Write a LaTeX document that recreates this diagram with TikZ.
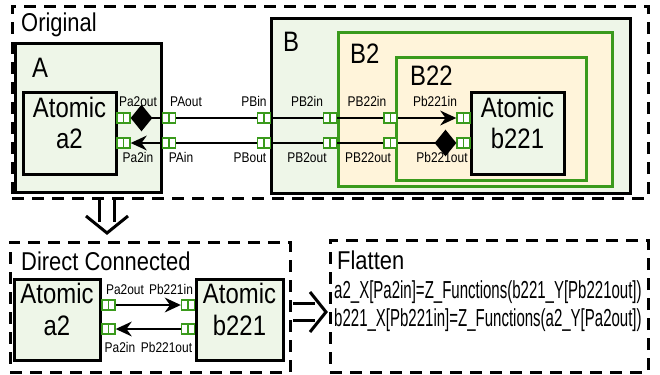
\documentclass[tikz,border=0pt]{standalone}
\usepackage{fontspec}
\setmainfont{Liberation Sans}[FakeStretch=0.85]
\newfontfamily\formfont{Liberation Sans}[FakeStretch=0.61]
\usetikzlibrary{arrows.meta, positioning, fit}

\definecolor{boxgreen}{RGB}{238,246,232}
\definecolor{boxyellow}{RGB}{255,244,218}
\definecolor{edgegreen}{RGB}{58,154,28}

\begin{document}
\begin{tikzpicture}[
    x=0.3mm, y=-0.3mm,
    groupbox/.style={draw, line width=0.9mm, dash pattern=on 3.6mm off 2.4mm, inner sep=0pt},
    coupled/.style={draw, line width=0.9mm, fill=boxgreen, inner sep=0pt},
    subbox/.style={draw=edgegreen, line width=0.9mm, fill=boxyellow, inner sep=0pt},
    atomic/.style={draw, line width=0.9mm, fill=boxgreen, inner sep=0pt, align=center, font=\fontsize{24}{27}\selectfont},
    port/.style={draw=edgegreen, fill=white, line width=0.4mm, minimum width=3.9mm, minimum height=3mm, inner sep=0pt,
        path picture={\draw[edgegreen, line width=0.4mm] (path picture bounding box.north) -- (path picture bounding box.south);}},
    plabel/.style={font=\fontsize{12}{14}\selectfont, inner sep=0pt, anchor=base},
    title/.style={font=\fontsize{22}{26}\selectfont, inner sep=0pt, anchor=base west},
    big/.style={font=\fontsize{24}{29}\selectfont, inner sep=0pt, anchor=base west},
    formula/.style={font=\formfont\fontsize{21}{25}\selectfont, inner sep=0pt, anchor=base west},
    link/.style={line width=0.8mm},
    src/.style={{Diamond[length=6.5mm, width=8mm]}-},
    dst/.style={-{Stealth[length=4.8mm, width=4.4mm]}},
    fatline/.style={line width=0.9mm}
]
\useasboundingbox (0,0) rectangle (660,374);

% Original
\node[groupbox, fit={(12,6) (648,198)}] (orig) {};
\node[title] (origtitle) at (21,31) {Original};

\node[coupled, fit={(15,43) (161,192)}] (A) {};
\node[big] (Atitle) at (32,77) {A};
\node[atomic, fit={(23,92) (116,174)}] (a2) {Atomic\\a2};

\node[coupled, fit={(271,18) (630,193)}] (B) {};
\node[big] (Btitle) at (283,51) {B};
\node[subbox, fit={(338,32) (612,186)}] (B2) {};
\node[big] (B2title) at (350,63) {B2};
\node[subbox, fit={(396,57) (586,180)}] (B22) {};
\node[big] (B22title) at (410,85) {B22};
\node[atomic, fit={(471,92) (564,174)}] (b221) {Atomic\\b221};

% ports
\node[port] (Pa2out) at (123.5,118) {};
\node[port] (Pa2in) at (123.5,143) {};
\node[port] (PAout) at (169,118) {};
\node[port] (PAin) at (169,143) {};
\node[port] (PBin) at (264,118) {};
\node[port] (PBout) at (264,143) {};
\node[port] (PB2in) at (330,118) {};
\node[port] (PB2out) at (330,143) {};
\node[port] (PB22in) at (390.5,118) {};
\node[port] (PB22out) at (390.5,143) {};
\node[port] (Pb221in) at (463.5,118) {};
\node[port] (Pb221out) at (463.5,143) {};

\node[plabel] (lPa2out) at (138,106) {Pa2out};
\node[plabel] (lPAout) at (186,106) {PAout};
\node[plabel] (lPBin) at (254,106) {PBin};
\node[plabel] (lPB2in) at (307,106) {PB2in};
\node[plabel] (lPB22in) at (367,106) {PB22in};
\node[plabel] (lPb221in) at (435,106) {Pb221in};
\node[plabel] (lPa2in) at (138,162) {Pa2in};
\node[plabel] (lPAin) at (181,162) {PAin};
\node[plabel] (lPBout) at (250,162) {PBout};
\node[plabel] (lPB2out) at (307,162) {PB2out};
\node[plabel] (lPB22out) at (368,162) {PB22out};
\node[plabel] (lPb221out) at (442,162) {Pb221out};

% a2 -> b221
\draw[link, src] (Pa2out) -- (PAout);
\draw[link] (PAout) -- (PBin);
\draw[link] (PBin) -- (PB2in);
\draw[link] (PB2in) -- (PB22in);
\draw[link, dst] (PB22in) -- (Pb221in);
% b221 -> a2
\draw[link, src] (Pb221out) -- (PB22out);
\draw[link] (PB22out) -- (PB2out);
\draw[link] (PB2out) -- (PBout);
\draw[link] (PBout) -- (PAin);
\draw[link, dst] (PAin) -- (Pa2in);

% down arrow
\coordinate (downfrom) at (107,200);
\coordinate (downtip) at (107,233);
\draw[fatline, double, double distance=3.6mm, shorten >=3.3mm] (downfrom) -- (downtip);
\draw[fatline] ([shift={(-21,-17)}]downtip) -- (downtip) -- ([shift={(21,-17)}]downtip);

% Direct Connected
\node[groupbox, fit={(10,242) (290,372)}] (direct) {};
\node[title] (directtitle) at (21,270) {Direct Connected};
\node[atomic, fit={(14,279) (100,360)}] (da2) {Atomic\\a2};
\node[atomic, fit={(196,279) (283,360)}] (db221) {Atomic\\b221};

\node[port] (dPa2out) at (108.5,305) {};
\node[port] (dPa2in) at (108.5,329) {};
\node[port] (dPb221in) at (188,305) {};
\node[port] (dPb221out) at (188,329) {};

\node[plabel] (ldPa2out) at (125,294) {Pa2out};
\node[plabel] (ldPb221in) at (171,294) {Pb221in};
\node[plabel] (ldPa2in) at (120,352) {Pa2in};
\node[plabel] (ldPb221out) at (166.5,352) {Pb221out};

\draw[link, src, dst] (dPa2out) -- (dPb221in);
\draw[link, src, dst] (dPb221out) -- (dPa2in);

% right arrow
\coordinate (rightfrom) at (293,312);
\coordinate (righttip) at (326,312);
\draw[fatline, double, double distance=4.2mm, shorten >=3.3mm] (rightfrom) -- (righttip);
\draw[fatline] ([shift={(-16,-20)}]righttip) -- (righttip) -- ([shift={(-16,20)}]righttip);

% Flatten
\node[groupbox, fit={(330,240) (648,372)}] (flat) {};
\node[title] (flattitle) at (337,269) {Flatten};
\node[formula] (flatA) at (334,298) {a2\_X[Pa2in]=Z\_Functions(b221\_Y[Pb221out])};
\node[formula] (flatB) at (334,326) {b221\_X[Pb221in]=Z\_Functions(a2\_Y[Pa2out])};

\end{tikzpicture}
\end{document}
